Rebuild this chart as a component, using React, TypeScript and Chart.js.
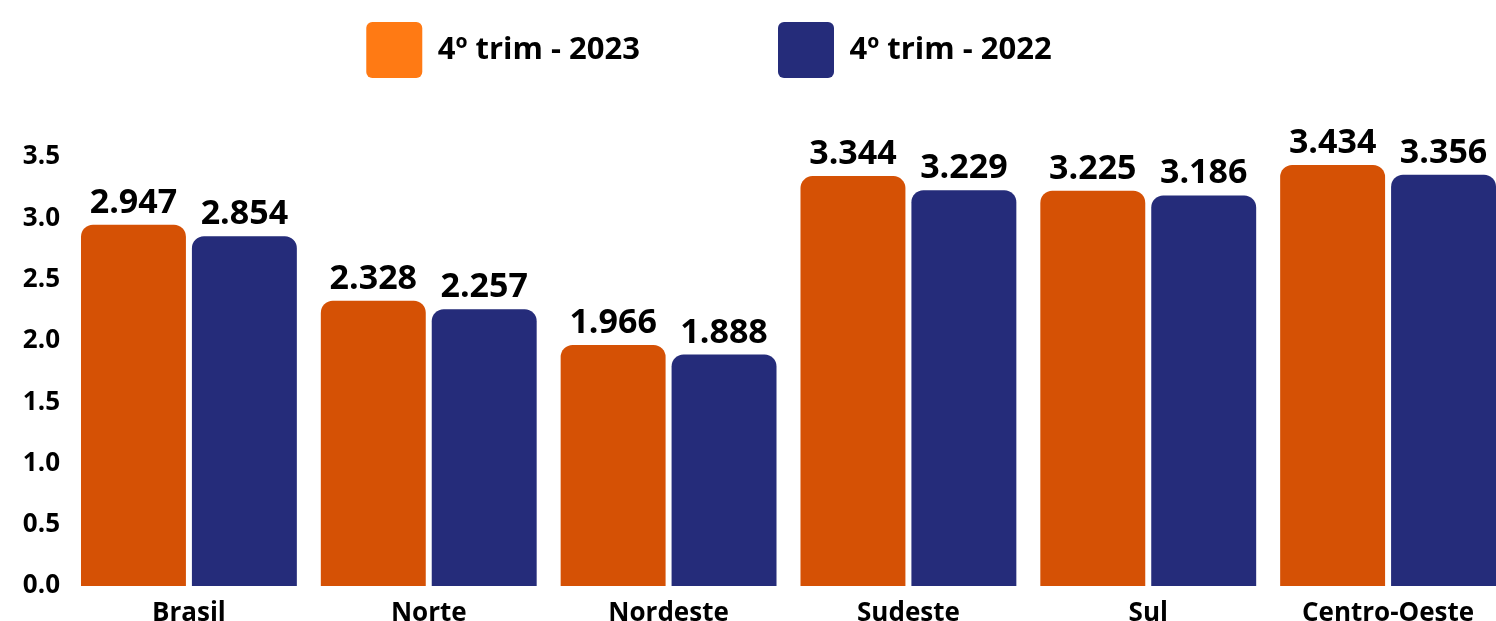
import React, { useEffect, useRef } from 'react';
import { Chart, registerables } from 'chart.js';

Chart.register(...registerables);

const categories = ['Brasil', 'Norte', 'Nordeste', 'Sudeste', 'Sul', 'Centro-Oeste'];
const seriesLabels = ['4º trim - 2023', '4º trim - 2022'];
const values2023 = [2.947, 2.328, 1.966, 3.344, 3.225, 3.434];
const values2022 = [2.854, 2.257, 1.888, 3.229, 3.186, 3.356];
const barColors = ['#D55105', '#252C7A'];
const legendColors = ['#FF7A14', '#252C7A'];
const yMin = 0;
const yMax = 3.5;
const yStep = 0.5;

const FONT = "'Open Sans', sans-serif";

const valueLabels = {
  id: 'valueLabels',
  afterDatasetsDraw(chart: any) {
    const ctx = chart.ctx;
    ctx.save();
    ctx.font = `bold 34px ${FONT}`;
    ctx.fillStyle = '#000000';
    ctx.textAlign = 'center';
    ctx.textBaseline = 'alphabetic';
    chart.data.datasets.forEach((ds: any, i: number) => {
      chart.getDatasetMeta(i).data.forEach((bar: any, j: number) => {
        ctx.fillText(Number(ds.data[j]).toFixed(3), bar.x, bar.y - 12);
      });
    });
    ctx.restore();
  },
};

const legendShift = {
  id: 'legendShift',
  afterLayout(chart: any) {
    if (chart.legend) {
      chart.legend.left -= 45;
      chart.legend.right -= 45;
    }
  },
};

export default function App() {
  const canvasRef = useRef<HTMLCanvasElement | null>(null);

  useEffect(() => {
    if (!canvasRef.current) return;
    const chart = new Chart(canvasRef.current, {
      type: 'bar',
      data: {
        labels: categories,
        datasets: [
          {
            label: seriesLabels[0],
            data: values2023,
            backgroundColor: barColors[0],
            borderRadius: { topLeft: 12, topRight: 12 },
            borderSkipped: 'start',
            categoryPercentage: 0.925,
            barPercentage: 0.946,
          },
          {
            label: seriesLabels[1],
            data: values2022,
            backgroundColor: barColors[1],
            borderRadius: { topLeft: 12, topRight: 12 },
            borderSkipped: 'start',
            categoryPercentage: 0.925,
            barPercentage: 0.946,
          },
        ],
      },
      options: {
        animation: false,
        responsive: true,
        maintainAspectRatio: false,
        layout: { padding: { top: -116, left: 0, right: 0, bottom: 0 } },
        plugins: {
          legend: {
            display: true,
            position: 'top',
            labels: {
              boxWidth: 56,
              boxHeight: 56,
              padding: 138,
              useBorderRadius: true,
              borderRadius: 6,
              color: '#000000',
              font: { family: FONT, size: 31, weight: 'bold' },
              generateLabels: (c: any) => {
                const items = Chart.defaults.plugins.legend.labels.generateLabels(c);
                return items.map((it: any, i: number) => ({
                  ...it,
                  fillStyle: legendColors[i],
                  strokeStyle: legendColors[i],
                  lineWidth: 0,
                }));
              },
            },
          },
          subtitle: {
            display: true,
            text: '',
            weight: 900,
            font: { size: 10 },
            padding: { top: 0, bottom: 57 },
          } as any,
          tooltip: { enabled: false },
        },
        scales: {
          x: {
            grid: { display: false, drawTicks: false },
            border: { display: false },
            ticks: {
              color: '#000000',
              padding: 12,
              font: { family: FONT, size: 26, weight: 'bold' },
            },
            afterFit: (s: any) => {
              s.height = 35;
            },
          },
          y: {
            min: yMin,
            max: yMax,
            grid: { display: false, drawTicks: false },
            border: { display: false },
            ticks: {
              stepSize: yStep,
              color: '#000000',
              padding: 9,
              font: { family: FONT, size: 26, weight: 'bold' },
              callback: (v: any) => Number(v).toFixed(1),
            },
            afterFit: (s: any) => {
              s.width = 69;
            },
          },
        },
      },
      plugins: [valueLabels, legendShift],
    });
    return () => chart.destroy();
  }, []);

  return (
    <div style={{ position: 'absolute', left: 0, top: 0, width: 1496, height: 621, overflow: 'hidden', background: '#ffffff' }}>
      <div style={{ position: 'relative', width: 1508, height: 621 }}>
        <canvas ref={canvasRef} />
      </div>
    </div>
  );
}
